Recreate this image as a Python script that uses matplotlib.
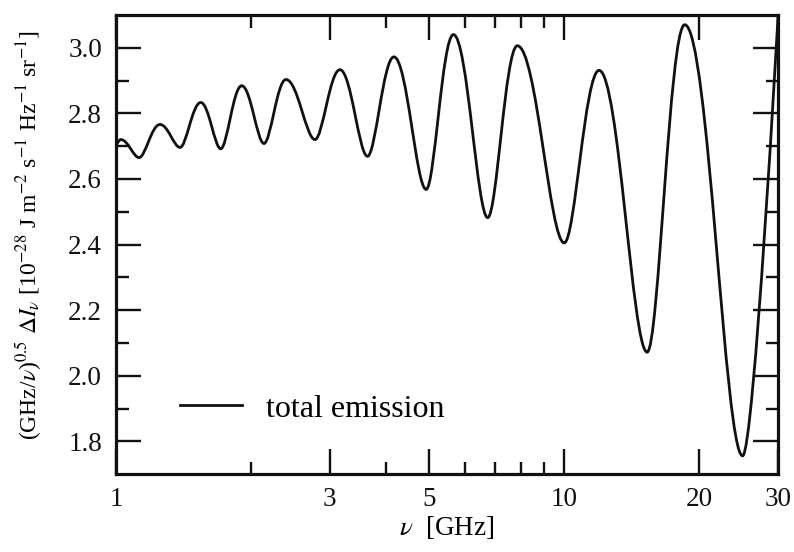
import numpy as np
import matplotlib
matplotlib.use('Agg')
import matplotlib.pyplot as plt
from matplotlib.path import Path
from matplotlib.patches import PathPatch
from matplotlib.lines import Line2D
from matplotlib.ticker import FixedLocator, FixedFormatter

plt.rcParams['font.family'] = ['Liberation Serif', 'DejaVu Serif']
plt.rcParams['mathtext.fontset'] = 'stix'

# turning points of the curve
nu = [1.0, 1.025, 1.126, 1.254, 1.39, 1.546, 1.713, 1.908, 2.139, 2.395,
      2.78, 3.16, 3.64, 4.17, 4.92, 5.66, 6.75, 7.86, 10.0, 11.96,
      15.31, 18.57, 25.0, 30.0]
total = [2.70, 2.72, 2.665, 2.766, 2.696, 2.833, 2.692, 2.884, 2.708, 2.903,
         2.72, 2.933, 2.669, 2.972, 2.568, 3.04, 2.482, 3.006, 2.405, 2.931,
         2.072, 3.07, 1.756, 3.10]

x_major = [1, 3, 5, 10, 20, 30]
x_minor = [2, 4, 6, 7, 8, 9]
y_major = [1.8, 2.0, 2.2, 2.4, 2.6, 2.8, 3.0]
y_minor = [1.9, 2.1, 2.3, 2.5, 2.7, 2.9]


def smooth_path(xs, ys, k_peak=0.41, k_trough=0.31):
    # cubic bezier between turning points, flat tangent at every extremum
    # (troughs in the original are a bit sharper than the crests)
    lx = np.log10(xs)
    n = len(xs)
    ks = [0.0] * n
    for i in range(1, n - 1):
        ks[i] = k_peak if ys[i] > ys[i - 1] else k_trough
    verts = [(xs[0], ys[0])]
    codes = [Path.MOVETO]
    for i in range(n - 1):
        d = lx[i + 1] - lx[i]
        verts += [(10 ** (lx[i] + ks[i] * d), ys[i]),
                  (10 ** (lx[i + 1] - ks[i + 1] * d), ys[i + 1]),
                  (xs[i + 1], ys[i + 1])]
        codes += [Path.CURVE4] * 3
    return Path(verts, codes)


fig = plt.figure(figsize=(7.94, 5.52), dpi=100)
ax = fig.add_axes([0.146, 0.141, 0.834, 0.832])
ax.set_xscale('log')
ax.set_xlim(1, 30)
ax.set_ylim(1.7, 3.1)

patch = PathPatch(smooth_path(nu, total), fill=False, edgecolor='#111111',
                  lw=2.0, transform=ax.transData)
ax.add_patch(patch)

ax.xaxis.set_major_locator(FixedLocator(x_major))
ax.xaxis.set_major_formatter(FixedFormatter([str(v) for v in x_major]))
ax.xaxis.set_minor_locator(FixedLocator(x_minor))
ax.xaxis.set_minor_formatter(FixedFormatter([''] * len(x_minor)))
ax.yaxis.set_major_locator(FixedLocator(y_major))
ax.yaxis.set_major_formatter(FixedFormatter(['%.1f' % v for v in y_major]))
ax.yaxis.set_minor_locator(FixedLocator(y_minor))

ax.tick_params(which='both', direction='in', top=True, right=True,
               width=1.7, colors='#111111', labelsize=19.5)
ax.tick_params(which='major', length=18)
ax.tick_params(which='minor', length=9)
ax.tick_params(axis='x', pad=9)
ax.tick_params(axis='y', pad=10)
for s in ax.spines.values():
    s.set_linewidth(2.3)
    s.set_color('#111111')

ax.set_xlabel(r'$\nu$  [GHz]', fontsize=19.5, labelpad=2)
ax.set_ylabel(r'(GHz/$\nu$)$^{0.5}$ $\Delta I_{\nu}$ [10$^{-28}$ J m$^{-2}$ s$^{-1}$ Hz$^{-1}$ sr$^{-1}$]',
              fontsize=17)
ax.yaxis.set_label_coords(-0.108, 0.52)

handle = Line2D([], [], color='#111111', lw=2.0)
ax.legend([handle], ['total emission'], loc='center left',
          bbox_to_anchor=(0.097, 0.142), frameon=False, fontsize=23,
          handlelength=1.95, handletextpad=0.75, borderpad=0, borderaxespad=0)

fig.savefig('out.png', dpi=100)
